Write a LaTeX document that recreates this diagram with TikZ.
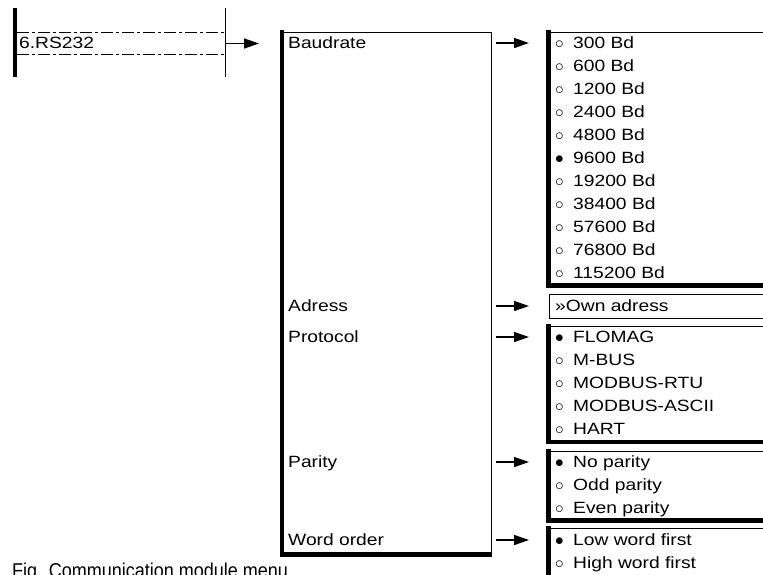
\documentclass[tikz,border=0pt]{standalone}
\usepackage{fontspec}
\setmainfont{Liberation Sans}[FakeStretch=1.18]
\newfontfamily\capfont{Liberation Sans}[FakeStretch=0.9]
\usetikzlibrary{arrows.meta,positioning}

\newcommand{\optoff}{\makebox[18pt][l]{$\circ$}}
\newcommand{\opton}{\makebox[18pt][l]{$\bullet$}}

\begin{document}
\begin{tikzpicture}[
    x=1pt, y=-1pt,
    lbl/.style={anchor=base west, inner sep=0pt, font=\fontsize{16.3}{23}\selectfont},
    thinline/.style={line width=1pt},
    thickline/.style={line width=4.5pt, line join=miter},
    dashdot/.style={line width=1pt, dash pattern=on 12pt off 3pt on 3pt off 3pt},
    arr/.style={line width=1.5pt, -{Triangle[length=15pt,width=10pt]}}
]
\useasboundingbox (0,0) rectangle (763,574);
\clip (0,0) rectangle (763,574);

% Menu entry
\draw[thickline] (15,8) -- (15,77);
\draw[thinline] (225.5,8) -- (225.5,77);
\draw[dashdot] (17,32.5) -- (225,32.5);
\draw[dashdot] (17,54) -- (225,54);
\node[lbl] (rs) at (19,48) {6.RS232};
\coordinate (rs out) at (226,43.5);
\coordinate (rs in) at (259,43.5);
\draw[arr] (rs out) -- (rs in);

% Submenu
\draw[thinline] (282,32) -- (491,32) -- (491,554.5);
\draw[thickline] (282,29.5) -- (282,554.5) -- (491.5,554.5);
\node[lbl] (baud) at (288,48) {Baudrate};
\node[lbl] (adr) at (288,311) {Adress};
\node[lbl] (prot) at (288,342) {Protocol};
\node[lbl] (par) at (288,467) {Parity};
\node[lbl] (word) at (288,545) {Word order};

% Arrows to the lists
\foreach \n/\y in {baud/43, adr/306, prot/337, par/462, word/540}{
  \coordinate (\n out) at (496,\y);
  \coordinate (\n in) at (529,\y);
  \draw[arr] (\n out) -- (\n in);
}

% Baudrate list
\draw[thinline] (548.5,32) -- (800,32);
\draw[thickline] (548.5,29.5) -- (548.5,285.5) -- (800,285.5);
\foreach \t [count=\i from 0] in {\optoff 300 Bd, \optoff 600 Bd, \optoff 1200 Bd,
    \optoff 2400 Bd, \optoff 4800 Bd, \opton 9600 Bd, \optoff 19200 Bd,
    \optoff 38400 Bd, \optoff 57600 Bd, \optoff 76800 Bd, \optoff 115200 Bd}
  \node[lbl] (bd\i) at (555,48+23*\i) {\t};

% Adress field
\draw[thinline] (800,294) -- (549.5,294) -- (549.5,318) -- (800,318);
\node[lbl] (own) at (555,311) {»Own adress};

% Protocol list
\draw[thinline] (548.5,326) -- (800,326);
\draw[thickline] (548.5,323.5) -- (548.5,442) -- (800,442);
\foreach \t [count=\i from 0] in {\opton FLOMAG, \optoff M-BUS, \optoff MODBUS-RTU,
    \optoff MODBUS-ASCII, \optoff HART}
  \node[lbl] (pr\i) at (555,342+23*\i) {\t};

% Parity list
\draw[thinline] (548.5,451) -- (800,451);
\draw[thickline] (548.5,448.5) -- (548.5,520.5) -- (800,520.5);
\foreach \t [count=\i from 0] in {\opton No parity, \optoff Odd parity, \optoff Even parity}
  \node[lbl] (pa\i) at (555,467+23*\i) {\t};

% Word order list
\draw[thinline] (548.5,528.5) -- (800,528.5);
\draw[thickline] (548.5,526) -- (548.5,600);
\foreach \t [count=\i from 0] in {\opton Low word first, \optoff High word first}
  \node[lbl] (wo\i) at (555,545+23*\i) {\t};

% Caption
\node[anchor=base west, inner sep=0pt, font=\capfont\fontsize{20}{24}\selectfont] (cap) at (12,577.5) {Fig. Communication module menu};
\end{tikzpicture}
\end{document}
